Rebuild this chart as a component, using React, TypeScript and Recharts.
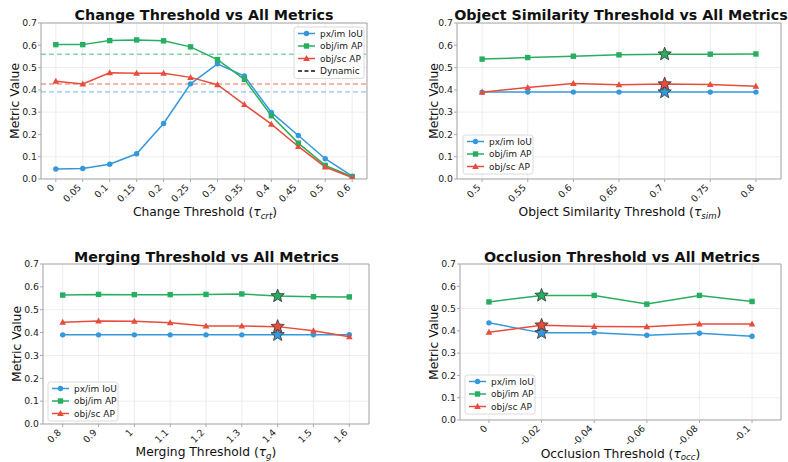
import React from "react";
import { LineChart, Line, XAxis, YAxis, CartesianGrid, ReferenceLine, ReferenceArea } from "recharts";

const FONT = "'DejaVu Sans', sans-serif";
const BLUE = "#3498db";
const GREEN = "#27ae60";
const RED = "#e74c3c";
const SPINE = "#a8a8a8";

const yTicks = [0, 0.1, 0.2, 0.3, 0.4, 0.5, 0.6, 0.7];
const seriesNames = ["px/im IoU", "obj/im AP", "obj/sc AP"];

// change threshold sweep
const changeLabels = ["0", "0.05", "0.1", "0.15", "0.2", "0.25", "0.3", "0.35", "0.4", "0.45", "0.5", "0.6"];
const changeIoU = [0.045, 0.047, 0.066, 0.113, 0.249, 0.427, 0.517, 0.462, 0.299, 0.195, 0.091, 0.013];
const changeObjIm = [0.603, 0.603, 0.621, 0.624, 0.62, 0.593, 0.536, 0.447, 0.284, 0.161, 0.061, 0.01];
const changeObjSc = [0.439, 0.426, 0.477, 0.474, 0.474, 0.456, 0.423, 0.334, 0.246, 0.146, 0.054, 0.007];
const dynamicValues = [0.391, 0.56, 0.426]; // iou, obj/im, obj/sc

// object similarity sweep
const simLabels = ["0.5", "0.55", "0.6", "0.65", "0.7", "0.75", "0.8"];
const simIoU = [0.39, 0.39, 0.39, 0.39, 0.39, 0.39, 0.39];
const simObjIm = [0.538, 0.545, 0.551, 0.557, 0.56, 0.56, 0.561];
const simObjSc = [0.389, 0.411, 0.429, 0.423, 0.426, 0.424, 0.416];

// merging sweep
const mergeLabels = ["0.8", "0.9", "1", "1.1", "1.2", "1.3", "1.4", "1.5", "1.6"];
const mergeIoU = [0.39, 0.39, 0.39, 0.39, 0.39, 0.39, 0.39, 0.39, 0.391];
const mergeObjIm = [0.564, 0.567, 0.566, 0.566, 0.567, 0.569, 0.56, 0.557, 0.556];
const mergeObjSc = [0.445, 0.451, 0.449, 0.443, 0.429, 0.429, 0.426, 0.408, 0.382];

// occlusion sweep
const occLabels = ["0", "-0.02", "-0.04", "-0.06", "-0.08", "-0.1"];
const occIoU = [0.436, 0.391, 0.392, 0.38, 0.389, 0.376];
const occObjIm = [0.53, 0.559, 0.559, 0.52, 0.559, 0.532];
const occObjSc = [0.394, 0.425, 0.419, 0.418, 0.431, 0.431];

const panels = [
  {
    title: "Change Threshold vs All Metrics", xName: "Change Threshold", sub: "crt",
    labels: changeLabels, iou: changeIoU, objIm: changeObjIm, objSc: changeObjSc, star: -1, dynamic: true,
    box: { x: 0, y: 0, w: 394, h: 231 }, plot: { l: 41, t: 23, r: 367, b: 179 },
    titleX: 204, titleY: 19.5, xLabelX: 205, xLabelY: 216, yLabelX: 19, legend: { x: 294, y: 27 },
  },
  {
    title: "Object Similarity Threshold vs All Metrics", xName: "Object Similarity Threshold", sub: "sim",
    labels: simLabels, iou: simIoU, objIm: simObjIm, objSc: simObjSc, star: 4, dynamic: false,
    box: { x: 394, y: 0, w: 394, h: 231 }, plot: { l: 457, t: 23, r: 781, b: 179 },
    titleX: 621, titleY: 19.5, xLabelX: 620, xLabelY: 216, yLabelX: 437.5, legend: { x: 463, y: 135 },
  },
  {
    title: "Merging Threshold vs All Metrics", xName: "Merging Threshold", sub: "g",
    labels: mergeLabels, iou: mergeIoU, objIm: mergeObjIm, objSc: mergeObjSc, star: 6, dynamic: false,
    box: { x: 0, y: 231, w: 394, h: 231 }, plot: { l: 43, t: 264, r: 369, b: 424 },
    titleX: 206.5, titleY: 261.5, xLabelX: 206, xLabelY: 456, yLabelX: 20.7, legend: { x: 48, y: 382 },
  },
  {
    title: "Occlusion Threshold vs All Metrics", xName: "Occlusion Threshold", sub: "occ",
    labels: occLabels, iou: occIoU, objIm: occObjIm, objSc: occObjSc, star: 1, dynamic: false,
    box: { x: 394, y: 231, w: 394, h: 231 }, plot: { l: 460, t: 264, r: 781, b: 420 },
    titleX: 622, titleY: 262, xLabelX: 620.5, xLabelY: 457.5, yLabelX: 438, legend: { x: 465, y: 375 },
  },
];

const series = [
  { key: "iou", name: seriesNames[0], color: BLUE, shape: "circle" },
  { key: "objIm", name: seriesNames[1], color: GREEN, shape: "square" },
  { key: "objSc", name: seriesNames[2], color: RED, shape: "triangle" },
];

function starPoints(cx: number, cy: number, R: number, r: number) {
  const pts: string[] = [];
  for (let k = 0; k < 10; k++) {
    const rad = k % 2 === 0 ? R : r;
    const a = -Math.PI / 2 + (k * Math.PI) / 5;
    pts.push(`${cx + rad * Math.cos(a)},${cy + rad * Math.sin(a)}`);
  }
  return pts.join(" ");
}

function Marker({ cx, cy, shape, color }: any) {
  if (shape === "circle") return <circle cx={cx} cy={cy} r={2.7} fill={color} />;
  if (shape === "square") return <rect x={cx - 2.7} y={cy - 2.7} width={5.4} height={5.4} fill={color} />;
  return <polygon points={`${cx},${cy - 3.5} ${cx + 3.3},${cy + 2.5} ${cx - 3.3},${cy + 2.5}`} fill={color} />;
}

function XTick({ x, y, payload, labels }: any) {
  return (
    <text
      x={x - 1}
      y={y + 4}
      transform={`rotate(-45 ${x - 1} ${y + 4})`}
      textAnchor="end"
      fontSize={9.3}
      fontFamily={FONT}
      fill="#1a1a1a"
    >
      {labels[payload.value]}
    </text>
  );
}

function Panel({ p }: any) {
  const n = p.labels.length;
  const rows = p.labels.map((_: string, i: number) => ({ i, iou: p.iou[i], objIm: p.objIm[i], objSc: p.objSc[i] }));
  const idx = p.labels.map((_: string, i: number) => i);
  const YW = 30;
  const XH = 30;
  const margin = {
    left: p.plot.l - p.box.x - YW,
    top: p.plot.t - p.box.y,
    right: p.box.x + p.box.w - p.plot.r,
    bottom: p.box.y + p.box.h - p.plot.b - XH,
  };
  const xDomain = [-0.55, n - 1 + 0.55];
  return (
    <div style={{ position: "absolute", left: p.box.x, top: p.box.y }}>
      <LineChart width={p.box.w} height={p.box.h} data={rows} margin={margin}>
        <CartesianGrid stroke="#e8e8e8" strokeWidth={0.8} />
        <XAxis
          dataKey="i"
          type="number"
          domain={xDomain}
          ticks={idx}
          interval={0}
          allowDataOverflow
          height={XH}
          axisLine={false}
          tickSize={3}
          tickMargin={2}
          tickLine={{ stroke: SPINE }}
          tick={<XTick labels={p.labels} />}
        />
        <YAxis
          type="number"
          domain={[0, 0.7]}
          ticks={yTicks}
          allowDataOverflow
          width={YW}
          axisLine={false}
          tickSize={3}
          tickMargin={1}
          tickLine={{ stroke: SPINE }}
          tickFormatter={(v: number) => v.toFixed(1)}
          tick={{ fontSize: 9.3, fill: "#1a1a1a", fontFamily: FONT }}
        />
        {p.dynamic &&
          series.map((s, k) => (
            <ReferenceLine
              key={s.key}
              y={dynamicValues[k]}
              stroke={s.color}
              strokeOpacity={0.55}
              strokeWidth={1.4}
              strokeDasharray="5 3"
            />
          ))}
        {series.map((s) => (
          <Line
            key={s.key}
            dataKey={s.key}
            name={s.name}
            stroke={s.color}
            strokeWidth={1.5}
            isAnimationActive={false}
            activeDot={false}
            dot={(d: any) => <Marker key={`${s.key}-${d.index}`} cx={d.cx} cy={d.cy} shape={s.shape} color={s.color} />}
          />
        ))}
        {p.star >= 0 &&
          series.map((s) => (
            <Line
              key={`star-${s.key}`}
              dataKey={s.key}
              stroke="none"
              legendType="none"
              isAnimationActive={false}
              activeDot={false}
              dot={(d: any) =>
                d.index === p.star ? (
                  <polygon
                    key={`st-${s.key}-${d.index}`}
                    points={starPoints(d.cx, d.cy, 7, 3)}
                    fill={s.color}
                    stroke="#333"
                    strokeWidth={0.8}
                  />
                ) : (
                  <g key={`st-${s.key}-${d.index}`} />
                )
              }
            />
          ))}
        <ReferenceArea x1={xDomain[0]} x2={xDomain[1]} y1={0} y2={0.7} fill="none" fillOpacity={0} stroke={SPINE} strokeWidth={1} />
      </LineChart>
    </div>
  );
}

function Legend({ p }: any) {
  const entries: any[] = series.map((s) => ({ ...s, dashed: false }));
  if (p.dynamic) entries.push({ key: "dyn", name: "Dynamic", color: "#111", shape: "none", dashed: true });
  const { x, y } = p.legend;
  const rowH = 12.5;
  return (
    <g>
      <rect x={x} y={y} width={70} height={entries.length * rowH + 1.5} rx={2.5} fill="#fff" fillOpacity={0.85} stroke="#d0d0d0" strokeWidth={0.8} />
      {entries.map((e, k) => {
        const ry = y + 6.5 + k * rowH;
        return (
          <g key={e.key}>
            <line x1={x + 4} x2={x + 21} y1={ry} y2={ry} stroke={e.color} strokeWidth={1.5} strokeDasharray={e.dashed ? "4 2.5" : undefined} />
            {!e.dashed && <Marker cx={x + 12.5} cy={ry} shape={e.shape} color={e.color} />}
            <text x={x + 26} y={ry + 3.2} fontSize={9} fontFamily={FONT} fill="#1a1a1a">
              {e.name}
            </text>
          </g>
        );
      })}
    </g>
  );
}

export default function App() {
  return (
    <div style={{ position: "fixed", left: 0, top: 0, width: 788, height: 462, background: "#fff", overflow: "hidden" }}>
      {panels.map((p) => (
        <Panel key={p.title} p={p} />
      ))}
      <svg width={788} height={462} style={{ position: "absolute", left: 0, top: 0, pointerEvents: "none" }}>
        {panels.map((p) => {
          const yc = (p.plot.t + p.plot.b) / 2;
          return (
            <g key={p.title} fontFamily={FONT} fill="#111">
              <text x={p.titleX} y={p.titleY} textAnchor="middle" fontSize={14.3} fontWeight="bold">
                {p.title}
              </text>
              <text x={p.xLabelX} y={p.xLabelY} textAnchor="middle" fontSize={12.3}>
                {p.xName} (<tspan fontStyle="italic">τ</tspan>
                <tspan fontStyle="italic" fontSize={8.6} dy={2.5}>
                  {p.sub}
                </tspan>
                <tspan dy={-2.5}>)</tspan>
              </text>
              <text x={p.yLabelX} y={yc} textAnchor="middle" fontSize={12.3} transform={`rotate(-90 ${p.yLabelX} ${yc})`}>
                Metric Value
              </text>
              <Legend p={p} />
            </g>
          );
        })}
      </svg>
    </div>
  );
}
